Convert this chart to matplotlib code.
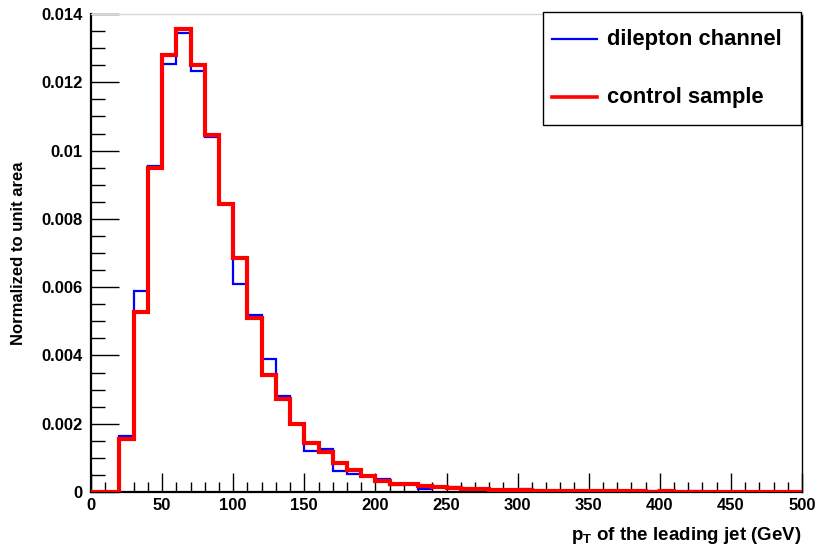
import numpy as np
import matplotlib
matplotlib.use("Agg")
import matplotlib.pyplot as plt
from matplotlib.ticker import MultipleLocator, FuncFormatter
from matplotlib.lines import Line2D
from matplotlib.patches import Rectangle

plt.rcParams['font.family'] = ['Liberation Sans', 'DejaVu Sans']
plt.rcParams['font.weight'] = 'bold'
plt.rcParams['mathtext.fontset'] = 'custom'
plt.rcParams['mathtext.rm'] = 'Liberation Sans:bold'
plt.rcParams['mathtext.it'] = 'Liberation Sans:bold'
plt.rcParams['mathtext.bf'] = 'Liberation Sans:bold'

# Leading-jet pT binning: 50 bins of 10 GeV from 0 to 500
bin_edges = np.arange(0, 510, 10)

# Normalized bin contents (units of 1e-3 per GeV)
dilepton = [0.00, 0.00, 1.64, 5.90, 9.56, 12.55, 13.45, 12.32, 10.40, 8.44,
            6.10, 5.18, 3.90, 2.81, 1.98, 1.20, 1.25, 0.62, 0.53, 0.47,
            0.37, 0.21, 0.22, 0.10, 0.14, 0.15, 0.09, 0.07, 0.06, 0.05,
            0.10, 0.03, 0.04, 0.03, 0.02, 0.03, 0.02, 0.02, 0.01, 0.02,
            0.01, 0.01, 0.02, 0.01, 0.01, 0.01, 0.01, 0.01, 0.01, 0.00]
control = [0.00, 0.00, 1.55, 5.27, 9.48, 12.81, 13.56, 12.52, 10.46, 8.44,
           6.86, 5.09, 3.43, 2.73, 1.98, 1.44, 1.16, 0.84, 0.64, 0.48,
           0.33, 0.22, 0.24, 0.17, 0.14, 0.12, 0.10, 0.08, 0.07, 0.06,
           0.05, 0.04, 0.04, 0.03, 0.03, 0.02, 0.02, 0.02, 0.02, 0.01,
           0.02, 0.01, 0.01, 0.01, 0.01, 0.01, 0.01, 0.01, 0.01, 0.01]

series_labels = ["dilepton channel", "control sample"]
series_colors = ["#0000ff", "#ff0000"]

fig = plt.figure(figsize=(8.18, 5.54), dpi=100)
ax = fig.add_axes([91 / 818, 62 / 554, 711 / 818, 478 / 554])

ax.stairs(np.array(dilepton) * 1e-3, bin_edges, color=series_colors[0], lw=1.6, zorder=3)
ax.stairs(np.array(control) * 1e-3, bin_edges, color=series_colors[1], lw=3.0, zorder=4)

ax.set_xlim(0, 500)
ax.set_ylim(0, 0.014)

ax.xaxis.set_major_locator(MultipleLocator(50))
ax.xaxis.set_minor_locator(MultipleLocator(10))
ax.yaxis.set_major_locator(MultipleLocator(0.002))
ax.yaxis.set_minor_locator(MultipleLocator(0.0005))

def yfmt(v, pos):
    if abs(v) < 1e-12:
        return "0"
    return ("%.3f" % v).rstrip("0")

ax.yaxis.set_major_formatter(FuncFormatter(yfmt))

ax.tick_params(axis='both', which='both', direction='in', top=False, right=False,
               labelsize=12, width=1.0, color='black')
ax.tick_params(axis='x', which='major', length=14, pad=4)
ax.tick_params(axis='x', which='minor', length=7)
ax.tick_params(axis='y', which='major', length=20, pad=6)
ax.tick_params(axis='y', which='minor', length=10)
for lab in ax.get_xticklabels() + ax.get_yticklabels():
    lab.set_fontweight('bold')

ax.spines['left'].set_linewidth(1.6)
ax.spines['bottom'].set_linewidth(1.6)
ax.spines['top'].set_linewidth(1.0)
ax.spines['top'].set_color('#d8d8d8')
ax.spines['right'].set_linewidth(1.0)

fig.text(19 / 818, 1 - 253 / 554, "Normalized to unit area", rotation=90,
         ha='center', va='center', fontsize=12, fontweight='bold')
fig.text(802 / 818, 1 - 540 / 554, r"$\mathrm{p_T}$ of the leading jet (GeV)",
         ha='right', va='baseline', fontsize=13.5, fontweight='bold')

# Legend box
fig.patches.append(Rectangle((543 / 818, 1 - 125 / 554), 258 / 818, 113 / 554,
                             transform=fig.transFigure, facecolor='white',
                             edgecolor='black', lw=1.0, zorder=10))
rows_y = [39, 97]
for label, color, yy in zip(series_labels, series_colors, rows_y):
    fig.lines.append(Line2D([552 / 818, 597 / 818], [1 - yy / 554, 1 - yy / 554],
                            transform=fig.transFigure, color=color,
                            lw=1.6 if color == series_colors[0] else 2.6, zorder=11))
    fig.text(607 / 818, 1 - yy / 554, label, ha='left', va='center',
             fontsize=15.8, fontweight='bold', zorder=12)

fig.savefig("out.png", dpi=100)
